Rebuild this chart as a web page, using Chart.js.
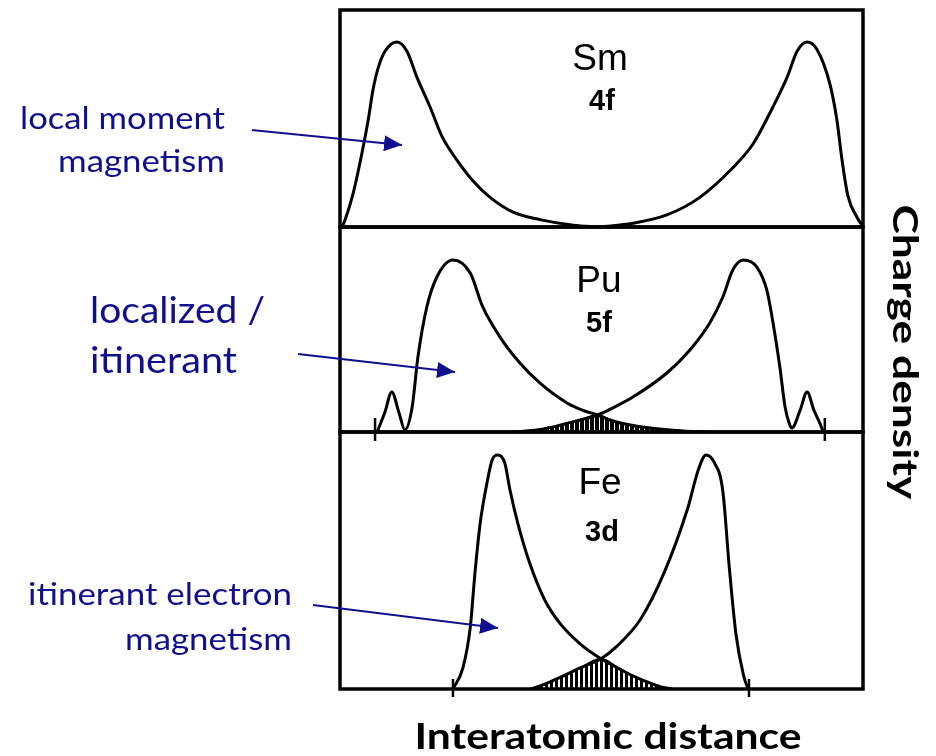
<!DOCTYPE html>
<html>
<head>
<meta charset="utf-8">
<script src="https://cdn.jsdelivr.net/npm/chart.js@4/dist/chart.umd.min.js"></script>
<style>
  html, body { margin: 0; padding: 0; background: #fff; }
  body { width: 936px; height: 756px; position: relative; overflow: hidden; }
  canvas { position: absolute; }
  #notes { position: absolute; left: 0; top: 0; pointer-events: none; }
  .el { font-family: "Liberation Sans", Arial, sans-serif; fill: #000; }
  .orb { font-family: "Liberation Sans", Arial, sans-serif; font-weight: bold; fill: #000; }
  .blue { font-family: Lato, "Open Sans", sans-serif; fill: #10108f; }
  .axis { font-family: Lato, "Open Sans", sans-serif; font-weight: bold; fill: #000; }
</style>
</head>
<body>
<canvas id="sm" width="560" height="240" style="left:320px;top:0px"></canvas>
<canvas id="pu" width="560" height="235" style="left:320px;top:215px"></canvas>
<canvas id="fe" width="560" height="290" style="left:320px;top:420px"></canvas>

<svg id="notes" width="936" height="756" viewBox="0 0 936 756">
  <defs>
    <marker id="head" markerUnits="userSpaceOnUse" markerWidth="20" markerHeight="16" refX="18" refY="8" orient="auto">
      <path d="M0,0 L18,8 L0,16 z" fill="#10108f"/>
    </marker>
  </defs>
  <!-- element / shell labels -->
  <text class="el" x="600" y="70" font-size="37" text-anchor="middle">Sm</text>
  <text class="orb" x="602" y="110" font-size="29" text-anchor="middle">4f</text>
  <text class="el" x="599" y="292" font-size="37" text-anchor="middle">Pu</text>
  <text class="orb" x="599" y="332" font-size="29" text-anchor="middle">5f</text>
  <text class="el" x="600" y="494" font-size="37" text-anchor="middle">Fe</text>
  <text class="orb" x="602" y="541" font-size="29" text-anchor="middle">3d</text>

  <!-- annotations -->
  <text class="blue" x="225" y="129" font-size="31" text-anchor="end" textLength="205" lengthAdjust="spacingAndGlyphs">local moment</text>
  <text class="blue" x="225" y="172" font-size="31" text-anchor="end" textLength="167" lengthAdjust="spacingAndGlyphs">magnetism</text>
  <line x1="252" y1="130" x2="402" y2="145" stroke="#10108f" stroke-width="2" marker-end="url(#head)"/>

  <text class="blue" x="90" y="323" font-size="36" textLength="175" lengthAdjust="spacingAndGlyphs">localized /</text>
  <text class="blue" x="90" y="373" font-size="36" textLength="147" lengthAdjust="spacingAndGlyphs">itinerant</text>
  <line x1="298" y1="354" x2="455" y2="372" stroke="#10108f" stroke-width="2" marker-end="url(#head)"/>

  <text class="blue" x="292" y="605" font-size="31" text-anchor="end" textLength="264" lengthAdjust="spacingAndGlyphs">itinerant electron</text>
  <text class="blue" x="292" y="650" font-size="31" text-anchor="end" textLength="167" lengthAdjust="spacingAndGlyphs">magnetism</text>
  <line x1="313" y1="605" x2="498" y2="628" stroke="#10108f" stroke-width="2" marker-end="url(#head)"/>

  <!-- axis titles -->
  <text class="axis" transform="translate(893,352) rotate(90)" font-size="35" text-anchor="middle" textLength="295" lengthAdjust="spacingAndGlyphs">Charge density</text>
  <text class="axis" x="608" y="749" font-size="37" text-anchor="middle" textLength="387" lengthAdjust="spacingAndGlyphs">Interatomic distance</text>
</svg>

<script>
// Charge density (arbitrary units, peak = 1) against interatomic distance (0–100 across the frame).
// Each panel holds the 4f/5f/3d density of two neighbouring atoms.

// Sm 4f
const smLeft = [[0.4,0],[1.0,0.04],[2.5,0.18],[4.2,0.40],[5.4,0.58],[6.3,0.74],[7.3,0.86],[8.6,0.95],[10.9,1.0],[12.8,0.95],[14.7,0.81],[17.2,0.65],[19.5,0.49],[22.4,0.36],[25.4,0.25],[28.7,0.16],[33.1,0.08],[38.2,0.04],[44.6,0.01],[49.7,0]];
const smRight = [[49.7,0],[56.0,0.02],[62.5,0.065],[68.8,0.16],[75.1,0.32],[79.0,0.45],[82.8,0.65],[85.5,0.81],[87.4,0.95],[89.3,1.0],[91.2,0.96],[93.7,0.77],[95.0,0.58],[96.0,0.36],[97.1,0.17],[98.9,0.05],[99.8,0.01]];

// Pu 5f
const puLeft = [[7.1,0],[8.6,0.116],[9.9,0.233],[11.3,0.11],[12.4,0.012],[13.8,0.145],[14.9,0.436],[16.6,0.727],[18.5,0.90],[21.6,1.0],[24.9,0.924],[27.3,0.727],[30.6,0.552],[34.4,0.401],[38.2,0.285],[43.4,0.169],[46.8,0.122],[49.3,0.099],[51.6,0.07],[54.5,0.047],[59.3,0.023],[65.6,0.006],[69.8,0]];
const puRight = [[33.5,0],[38.2,0.015],[42.1,0.04],[45.9,0.07],[49.3,0.099],[52.5,0.145],[56.0,0.203],[62.5,0.343],[66.9,0.477],[70.7,0.634],[73.2,0.785],[75.1,0.942],[77.1,1.0],[79.7,0.959],[81.6,0.826],[82.8,0.634],[84.1,0.378],[85.1,0.145],[86.0,0.041],[86.4,0.023],[88.0,0.128],[89.3,0.233],[90.6,0.128],[91.8,0.047],[92.4,0]];
const puOverlap = [[33.5,0],[38.2,0.015],[42.1,0.04],[45.9,0.07],[49.3,0.099],[51.6,0.07],[54.5,0.047],[59.3,0.023],[65.6,0.006],[69.8,0]];

// Fe 3d
const feLeft = [[21.6,0],[23.5,0.09],[24.9,0.262],[25.8,0.494],[26.8,0.708],[28.1,0.88],[29.1,0.979],[30.2,1.0],[31.5,0.966],[32.5,0.85],[34.0,0.708],[36.3,0.536],[39.2,0.378],[42.1,0.279],[45.9,0.193],[49.9,0.129],[53.5,0.085],[56.0,0.056],[59.3,0.025],[61.2,0.01],[63.5,0]];
const feRight = [[36.5,0],[38.8,0.018],[42.1,0.05],[45.9,0.09],[49.9,0.129],[52.8,0.18],[57.4,0.296],[62.0,0.498],[66.5,0.773],[68.5,0.936],[70.0,1.0],[71.5,0.97],[73.2,0.845],[74.4,0.528],[75.7,0.236],[77.1,0.064],[78.0,0.004],[78.2,0]];
const feOverlap = [[36.5,0],[38.8,0.018],[42.1,0.05],[45.9,0.09],[49.9,0.129],[53.5,0.085],[56.0,0.056],[59.3,0.025],[61.2,0.01],[63.5,0]];

// nearest-neighbour marks on the distance axis
const puTicks = [6.7, 92.7];
const feTicks = [21.6, 78.2];

const toPts = arr => arr.map(([x, y]) => ({x, y}));

// vertical hatching for the overlap of the two atomic densities
function hatch(period, ink) {
  const c = document.createElement('canvas');
  c.width = period; c.height = 4;
  const g = c.getContext('2d');
  g.fillStyle = '#000';
  g.fillRect(0, 0, ink, 4);
  return g.createPattern(c, 'repeat');
}

// box around each panel plus the small marks on its base line
const framePlugin = {
  id: 'frame',
  afterDatasetsDraw(chart, args, opts) {
    const {ctx, chartArea: a, scales: {x}} = chart;
    ctx.save();
    ctx.strokeStyle = '#000';
    ctx.lineWidth = 3.5;
    ctx.strokeRect(a.left, a.top, a.right - a.left, a.bottom - a.top);
    ctx.lineWidth = 2.5;
    (opts.ticks || []).forEach(v => {
      const px = x.getPixelForValue(v);
      ctx.beginPath();
      ctx.moveTo(px, a.bottom - opts.up);
      ctx.lineTo(px, a.bottom + opts.down);
      ctx.stroke();
    });
    ctx.restore();
  }
};

const curve = pts => ({
  data: toPts(pts), borderColor: '#000', borderWidth: 3, fill: false,
  pointRadius: 0, cubicInterpolationMode: 'monotone', order: 1
});
const shade = (pts, pattern) => ({
  data: toPts(pts), borderColor: '#000', borderWidth: 2, fill: 'origin',
  backgroundColor: pattern, pointRadius: 0, cubicInterpolationMode: 'monotone', order: 2
});

function panel(id, datasets, ymax, padding, frame) {
  return new Chart(document.getElementById(id), {
    type: 'line',
    data: { datasets },
    options: {
      responsive: false,
      animation: false,
      events: [],
      layout: { padding },
      plugins: { legend: { display: false }, tooltip: { enabled: false }, frame },
      scales: {
        x: { type: 'linear', min: 0, max: 100, display: false },
        y: { type: 'linear', min: 0, max: ymax, display: false }
      }
    },
    plugins: [framePlugin]
  });
}

panel('sm', [curve(smLeft), curve(smRight)], 1.173,
  { left: 20, right: 17, top: 10, bottom: 13 }, { ticks: [], up: 0, down: 0 });

panel('pu', [shade(puOverlap, hatch(5, 4)), curve(puLeft), curve(puRight)], 1.192,
  { left: 20, right: 17, top: 12, bottom: 18 }, { ticks: puTicks, up: 14, down: 9 });

panel('fe', [shade(feOverlap, hatch(5, 3)), curve(feLeft), curve(feRight)], 1.098,
  { left: 20, right: 17, top: 12, bottom: 21 }, { ticks: feTicks, up: 10, down: 8 });
</script>
</body>
</html>
